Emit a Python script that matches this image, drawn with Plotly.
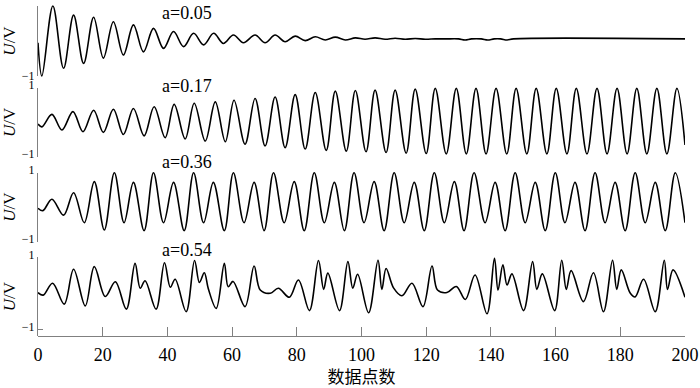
import plotly.graph_objects as go

# ---------------- data (turning points of each trace) -------------
a005_x = [0, 1.2, 4.6, 7.9, 11.0, 14.1, 17.2, 20.2, 23.3, 26.4, 29.5, 32.6, 35.7, 38.8, 41.9,
          45.0, 48.1, 51.2, 54.3, 57.3, 60.4, 63.5, 67.1, 70.2, 73.3, 76.4, 79.5, 82.6, 85.7,
          88.8, 91.9, 95.0, 98.1, 101.1, 104.2, 107.3, 110.4, 113.5, 116.6, 119.7, 122.8,
          126, 130, 132, 134, 137, 139, 141, 143, 145, 147, 200]
a005_u = [-0.05, -1.0, 1.0, -0.78, 0.74, -0.64, 0.68, -0.49, 0.55, -0.40, 0.46, -0.31, 0.36,
          -0.21, 0.27, -0.16, 0.22, -0.11, 0.22, -0.07, 0.17, -0.05, 0.17, -0.05, 0.17, -0.02,
          0.14, 0.01, 0.12, 0.03, 0.11, 0.03, 0.09, 0.05, 0.09, 0.05, 0.08, 0.05, 0.07, 0.05,
          0.06, 0.06, 0.06, 0.03, 0.06, 0.06, 0.03, 0.06, 0.06, 0.03, 0.06, 0.06]

a017_x = [0, 1.2, 4.3, 7.4, 10.8, 13.9, 17.2, 20.2, 23.3, 26.4, 29.5, 32.8, 35.9, 39.3, 42.1,
          45.5, 48.3, 51.7, 54.8, 57.9, 60.6, 64.0, 67.1, 70.2, 73.3, 76.4, 79.5, 82.6, 85.7,
          89.1, 91.9, 95.3, 98.1, 101.4, 104.2, 107.6, 110.4, 113.8, 116.6, 120.0, 122.8, 126.2,
          129.3, 132.4, 135.4, 138.5, 141.6, 144.9, 147.8, 151.1, 154.0, 157.3, 160.2, 163.5,
          166.4, 169.7, 172.8, 175.9, 179.0, 182.1, 185.1, 188.2, 191.3, 194.4, 197.5, 200]
a017_u = [-0.05, -0.13, 0.23, -0.22, 0.31, -0.27, 0.35, -0.29, 0.38, -0.35, 0.40, -0.39, 0.45,
          -0.44, 0.52, -0.48, 0.55, -0.54, 0.59, -0.56, 0.64, -0.63, 0.69, -0.68, 0.73, -0.73,
          0.80, -0.77, 0.86, -0.81, 0.90, -0.83, 0.92, -0.85, 0.93, -0.87, 0.93, -0.89, 0.96,
          -0.90, 0.98, -0.91, 0.98, -0.91, 0.98, -0.91, 0.98, -0.91, 0.98, -0.91, 0.98, -0.91,
          0.98, -0.91, 0.98, -0.91, 0.98, -0.91, 0.98, -0.91, 0.98, -0.91, 0.98, -0.91, 0.98,
          -0.65]

a036_x = [0, 1.5, 4.3, 7.9, 11.0, 14.3, 17.4, 20.5, 23.6, 26.6, 29.5, 32.8, 35.7, 38.8, 41.9,
          45.2, 48.1, 51.2, 54.2, 57.6, 60.4, 63.7, 66.8, 69.9, 72.8, 76.1, 79.2, 82.3, 85.4,
          88.5, 91.6, 94.7, 97.7, 100.8, 103.9, 107.0, 110.1, 113.2, 116.3, 119.4, 122.5, 125.6,
          128.7, 131.7, 134.8, 138.2, 141.3, 144.4, 147.5, 150.6, 153.7, 156.8, 159.9, 162.9,
          166.0, 169.1, 172.2, 175.3, 178.4, 181.5, 184.6, 187.7, 190.8, 193.9, 197.0, 200]
a036_u = [-0.03, -0.10, 0.23, -0.23, 0.42, -0.45, 0.74, -0.66, 1.0, -0.45, 0.72, -0.68, 1.0,
          -0.45, 0.72, -0.68, 1.0, -0.45, 0.72, -0.68, 1.0, -0.45, 0.72, -0.68, 1.0, -0.45, 0.74,
          -0.68, 1.0, -0.45, 0.72, -0.68, 1.0, -0.45, 0.74, -0.68, 1.0, -0.45, 0.72, -0.68, 1.0,
          -0.45, 0.74, -0.68, 1.0, -0.45, 0.72, -0.68, 1.0, -0.45, 0.72, -0.68, 1.0, -0.45, 0.72,
          -0.68, 1.0, -0.45, 0.72, -0.68, 1.0, -0.45, 0.72, -0.68, 1.0, -0.45]

a054_x = [0, 1.6, 4.5, 8.1, 11.0, 14.6, 17.4, 20.8, 23.9, 27.3, 30.0, 31.6, 33.1, 36.5, 39.1,
          40.9, 42.4, 45.8, 48.4, 49.9, 51.4, 52.7, 55.1, 57.6, 58.8, 60.3, 64.0, 66.8, 68.7,
          71.8, 74.3, 77.7, 80.5, 83.9, 86.7, 88.3, 89.6, 93.2, 95.8, 97.3, 98.8, 102.2, 105.1,
          106.3, 107.6, 109.9, 112.5, 115.6, 119.0, 121.8, 123.5, 126.4, 129.3, 132.1, 135.1,
          138.8, 141.1, 142.2, 143.7, 145.0, 146.5, 150.1, 152.9, 154.2, 155.9, 159.7, 161.9,
          163.3, 164.8, 168.6, 171.7, 174.8, 177.6, 178.9, 180.3, 183.1, 184.6, 187.2, 190.8,
          193.6, 194.6, 196.3, 200]
a054_u = [0.02, -0.05, 0.28, -0.30, 0.67, -0.35, 0.74, -0.09, 0.32, -0.44, 0.83, 0.14, 0.35,
          -0.44, 0.85, 0.17, 0.39, -0.51, 0.91, 0.30, 0.57, 0.11, -0.42, 0.83, 0.18, 0.33, -0.37,
          0.76, 0.09, 0.0, 0.14, -0.11, 0.37, -0.48, 0.91, 0.11, 0.56, -0.48, 0.88, 0.14, 0.53,
          -0.54, 0.92, 0.11, 0.69, 0.15, -0.07, 0.28, -0.37, 0.76, 0.09, 0.02, 0.19, -0.17, 0.51,
          -0.57, 0.97, 0.09, 0.79, 0.23, 0.54, -0.48, 0.88, 0.11, 0.54, -0.48, 0.92, 0.11, 0.63,
          -0.23, 0.57, -0.51, 0.92, 0.11, 0.65, 0.0, -0.10, 0.39, -0.51, 0.92, 0.11, 0.65, -0.11]

labels = ["a=0.05", "a=0.17", "a=0.36", "a=0.54"]
x_ticks = [0, 20, 40, 60, 80, 100, 120, 140, 160, 180, 200]
u_ticks = [-1, 1]
u_ticktext = ["\u22121", "1"]

# ---------------- layout helpers (pixel geometry) ----------------
H = 388
rows = [(6, 76), (87.7, 157), (172.7, 241.7), (257.3, 329.3)]
label_rows = [13, 86, 161.5, 250]
label_shift = [0, -3, -3, -3]
XAXIS_ROW = 336
PAD = 0.1

series = [(a005_x, a005_u), (a017_x, a017_u), (a036_x, a036_u), (a054_x, a054_u)]
serif = "Liberation Serif"

fig = go.Figure()
for i, (xs, us) in enumerate(series, start=1):
    xref = "x" if i == 1 else f"x{i}"
    # empty trace so that the -1..1 bracket axis of this panel is drawn
    fig.add_trace(go.Scatter(x=[], y=[], mode="lines", xaxis=xref, yaxis=f"y{i + 4}",
                             hoverinfo="skip", showlegend=False))
    fig.add_trace(go.Scatter(
        x=xs, y=us, mode="lines",
        line=dict(color="black", width=1.6, shape="spline", smoothing=1.0),
        xaxis=xref, yaxis="y" if i == 1 else f"y{i}",
        hoverinfo="skip", showlegend=False))

lay = {}
for i, (top, bot) in enumerate(rows, start=1):
    span = bot - top
    dtop = top - PAD / 2 * span
    dbot = bot + PAD / 2 * span
    xs_name = "xaxis" if i == 1 else f"xaxis{i}"
    ys_name = "yaxis" if i == 1 else f"yaxis{i}"
    xref = "x" if i == 1 else f"x{i}"
    lay[ys_name] = dict(domain=[1 - dbot / H, 1 - dtop / H], range=[-1 - PAD, 1 + PAD],
                        visible=False, anchor=xref, fixedrange=True)
    lay[xs_name] = dict(domain=[0, 1], range=[0, 200], visible=False,
                        anchor="y" if i == 1 else f"y{i}")
    # bracket axis; the lowest one runs down to the x axis line
    b_bot = XAXIS_ROW if i == 4 else bot
    r_low = -1 - 2 * (b_bot - bot) / span
    lay[f"yaxis{i + 4}"] = dict(
        domain=[1 - b_bot / H, 1 - top / H], range=[r_low, 1], anchor=xref,
        showline=True, linecolor="#808080", linewidth=1.2,
        ticks="inside", ticklen=5, tickcolor="#808080", tickwidth=1.2,
        tickvals=u_ticks, ticktext=u_ticktext, ticklabelshift=label_shift[i - 1],
        tickfont=dict(family=serif, size=12, color="black"),
        showgrid=False, zeroline=False, automargin=False,
        title=dict(text="<i>U</i>/V", font=dict(family=serif, size=17, color="black"),
                   standoff=12))

lay["xaxis4"].update(dict(
    visible=True, anchor="free", position=1 - XAXIS_ROW / H,
    showline=True, linecolor="#808080", linewidth=1.2,
    ticks="inside", ticklen=9, tickcolor="#808080", tickwidth=1.2,
    tickvals=x_ticks, ticktext=[str(v) for v in x_ticks],
    tickfont=dict(family=serif, size=18, color="black"), ticklabelstandoff=2,
    showgrid=False, zeroline=False, automargin=False,
    title=dict(text="数据点数", font=dict(family="Noto Sans CJK SC", size=17, color="black"),
               standoff=7)))

fig.update_layout(**lay)
fig.update_layout(
    width=700, height=388, margin=dict(l=38, r=15, t=0, b=0),
    plot_bgcolor="rgba(0,0,0,0)", paper_bgcolor="white", showlegend=False)

for txt, py in zip(labels, label_rows):
    fig.add_annotation(text=txt, xref="x4", x=46.1, yref="paper", y=1 - py / H,
                       showarrow=False, xanchor="center", yanchor="middle",
                       font=dict(family=serif, size=18, color="black"))

fig.write_html("out.html", config={"displayModeBar": False},
               post_script="document.body.style.margin='0px';")
